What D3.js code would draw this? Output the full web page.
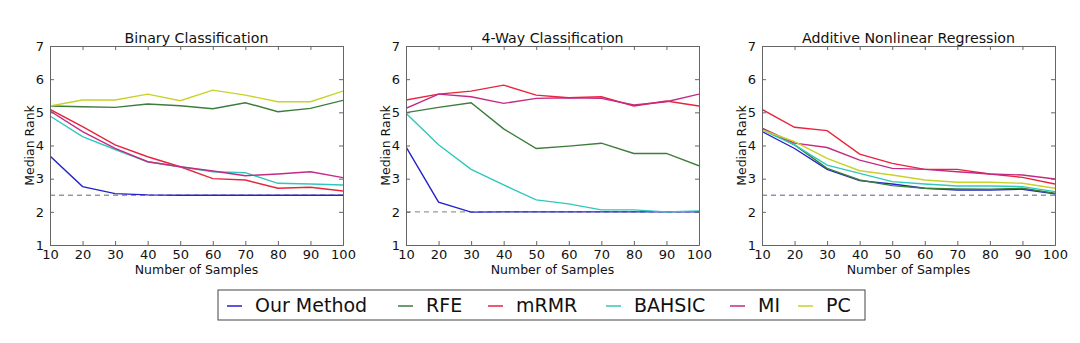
<!DOCTYPE html>
<html>
<head>
<meta charset="utf-8">
<script src="https://cdn.jsdelivr.net/npm/d3@7"></script>
<style>
  body { margin: 0; background: #fff; }
  svg text { font-family: "DejaVu Sans", sans-serif; fill: #111; }
</style>
</head>
<body>
<div id="chart"></div>
<script>
// x values shared by all panels
var samples = [10, 20, 30, 40, 50, 60, 70, 80, 90, 100];
var methods = ['Our Method', 'RFE', 'mRMR', 'BAHSIC', 'MI', 'PC'];
var colors = ['#2323c8', '#3c7d3c', '#e8243c', '#2fc8bc', '#c42a84', '#c8d228'];
var titles = ['Binary Classification', '4-Way Classification', 'Additive Nonlinear Regression'];
var baselines = [2.5, 2.0, 2.5];
var yTicks = [1, 2, 3, 4, 5, 6, 7];

// Binary Classification
var binOurs   = [3.68, 2.76, 2.55, 2.51, 2.5, 2.5, 2.5, 2.5, 2.5, 2.5];
var binRFE    = [5.19, 5.17, 5.15, 5.25, 5.2, 5.11, 5.29, 5.02, 5.12, 5.36];
var binMRMR   = [5.09, 4.57, 4.02, 3.66, 3.36, 3.0, 2.96, 2.71, 2.74, 2.63];
var binBAHSIC = [4.89, 4.27, 3.88, 3.51, 3.36, 3.21, 3.18, 2.86, 2.84, 2.81];
var binMI     = [5.04, 4.42, 3.91, 3.51, 3.36, 3.23, 3.09, 3.14, 3.21, 3.03];
var binPC     = [5.19, 5.37, 5.37, 5.55, 5.35, 5.67, 5.52, 5.32, 5.32, 5.64];

// 4-Way Classification (no PC curve)
var fourOurs   = [3.96, 2.29, 1.99, 2.0, 2.0, 2.0, 2.0, 2.0, 2.0, 2.0];
var fourRFE    = [4.99, 5.15, 5.29, 4.5, 3.91, 3.98, 4.07, 3.76, 3.76, 3.39];
var fourMRMR   = [5.37, 5.55, 5.64, 5.82, 5.52, 5.44, 5.47, 5.19, 5.34, 5.19];
var fourBAHSIC = [4.97, 4.02, 3.28, 2.81, 2.36, 2.24, 2.06, 2.06, 2.0, 2.03];
var fourMI     = [5.12, 5.55, 5.47, 5.27, 5.42, 5.44, 5.42, 5.22, 5.32, 5.55];
var fourPC     = null;

// Additive Nonlinear Regression
var regOurs   = [4.42, 3.91, 3.28, 2.94, 2.84, 2.71, 2.66, 2.66, 2.68, 2.54];
var regRFE    = [4.52, 4.02, 3.31, 2.96, 2.79, 2.71, 2.69, 2.68, 2.71, 2.56];
var regMRMR   = [5.09, 4.55, 4.45, 3.74, 3.46, 3.28, 3.28, 3.14, 3.04, 2.84];
var regBAHSIC = [4.47, 4.02, 3.41, 3.16, 2.91, 2.84, 2.78, 2.78, 2.76, 2.61];
var regMI     = [4.52, 4.07, 3.94, 3.56, 3.31, 3.28, 3.21, 3.14, 3.11, 2.99];
var regPC     = [4.47, 4.12, 3.61, 3.24, 3.11, 2.96, 2.89, 2.89, 2.86, 2.71];

var panels = [
  [binOurs, binRFE, binMRMR, binBAHSIC, binMI, binPC],
  [fourOurs, fourRFE, fourMRMR, fourBAHSIC, fourMI, fourPC],
  [regOurs, regRFE, regMRMR, regBAHSIC, regMI, regPC]
];

var width = 1080, height = 343;
var plotLefts = [50, 406, 762];
var plotW = 293, plotTop = 46, plotH = 199;

var svg = d3.select('#chart').append('svg')
  .attr('width', width)
  .attr('height', height);

panels.forEach(function (series, p) {
  var x = d3.scaleLinear().domain([10, 100]).range([0, plotW]);
  var y = d3.scaleLinear().domain([1, 7]).range([plotH, 0]);

  var g = svg.append('g')
    .attr('transform', 'translate(' + plotLefts[p] + ',' + plotTop + ')');

  g.append('defs').append('clipPath').attr('id', 'clip' + p)
    .append('rect').attr('width', plotW).attr('height', plotH);

  var line = d3.line()
    .x(function (d, i) { return x(samples[i]); })
    .y(function (d) { return y(d); });

  var body = g.append('g').attr('clip-path', 'url(#clip' + p + ')');

  // reference (optimal) rank
  body.append('line')
    .attr('x1', x(10)).attr('x2', x(100))
    .attr('y1', y(baselines[p])).attr('y2', y(baselines[p]))
    .attr('stroke', p == 2 ? '#8a96b4' : '#999')
    .attr('stroke-width', 1.3)
    .attr('stroke-dasharray', '5,4');

  series.forEach(function (vals, k) {
    if (!vals) return;
    body.append('path')
      .datum(vals)
      .attr('d', line)
      .attr('fill', 'none')
      .attr('stroke', colors[k])
      .attr('stroke-width', 1.4);
  });

  // axes: matplotlib classic style, ticks inward on all sides
  var axL = d3.axisLeft(y).tickValues(yTicks).tickSize(-4).tickPadding(6).tickFormat(d3.format('d'));
  var axR = d3.axisRight(y).tickValues(yTicks).tickSize(-4).tickFormat('');
  var axB = d3.axisBottom(x).tickValues(samples).tickSize(-4).tickPadding(5).tickFormat(d3.format('d'));
  var axT = d3.axisTop(x).tickValues(samples).tickSize(-4).tickFormat('');

  g.append('g').call(axL);
  g.append('g').attr('transform', 'translate(' + plotW + ',0)').call(axR);
  g.append('g').attr('transform', 'translate(0,' + plotH + ')').call(axB);
  g.append('g').call(axT);

  g.selectAll('.domain').attr('stroke', '#666').attr('stroke-width', 1);
  g.selectAll('.tick line').attr('stroke', '#666');
  g.selectAll('.tick text')
    .attr('font-size', 13)
    .style('font-family', '"DejaVu Sans", sans-serif')
    .attr('fill', '#111');

  g.append('text')
    .attr('x', plotW / 2).attr('y', -3)
    .attr('text-anchor', 'middle')
    .attr('font-size', 14.2)
    .text(titles[p]);

  g.append('text')
    .attr('x', plotW / 2).attr('y', plotH + 29)
    .attr('text-anchor', 'middle')
    .attr('font-size', 12.5)
    .text('Number of Samples');

  g.append('text')
    .attr('transform', 'translate(-16,' + (plotH / 2) + ') rotate(-90)')
    .attr('text-anchor', 'middle')
    .attr('font-size', 12.5)
    .text('Median Rank');
});

// legend
var legX = 218, legY = 290, legW = 647, legH = 30;
var legend = svg.append('g').attr('transform', 'translate(' + legX + ',' + legY + ')');
legend.append('rect')
  .attr('width', legW).attr('height', legH)
  .attr('fill', '#fff')
  .attr('stroke', '#444')
  .attr('stroke-width', 1);

var itemX = [9, 180, 270, 388, 512, 580];
methods.forEach(function (m, i) {
  var item = legend.append('g').attr('transform', 'translate(' + itemX[i] + ',' + (legH / 2) + ')');
  item.append('line')
    .attr('x1', 0).attr('x2', 15)
    .attr('y1', 1).attr('y2', 1)
    .attr('stroke', colors[i])
    .attr('stroke-width', 1.5);
  item.append('text')
    .attr('x', 28).attr('y', 7)
    .attr('font-size', 19)
    .text(m);
});
</script>
</body>
</html>
